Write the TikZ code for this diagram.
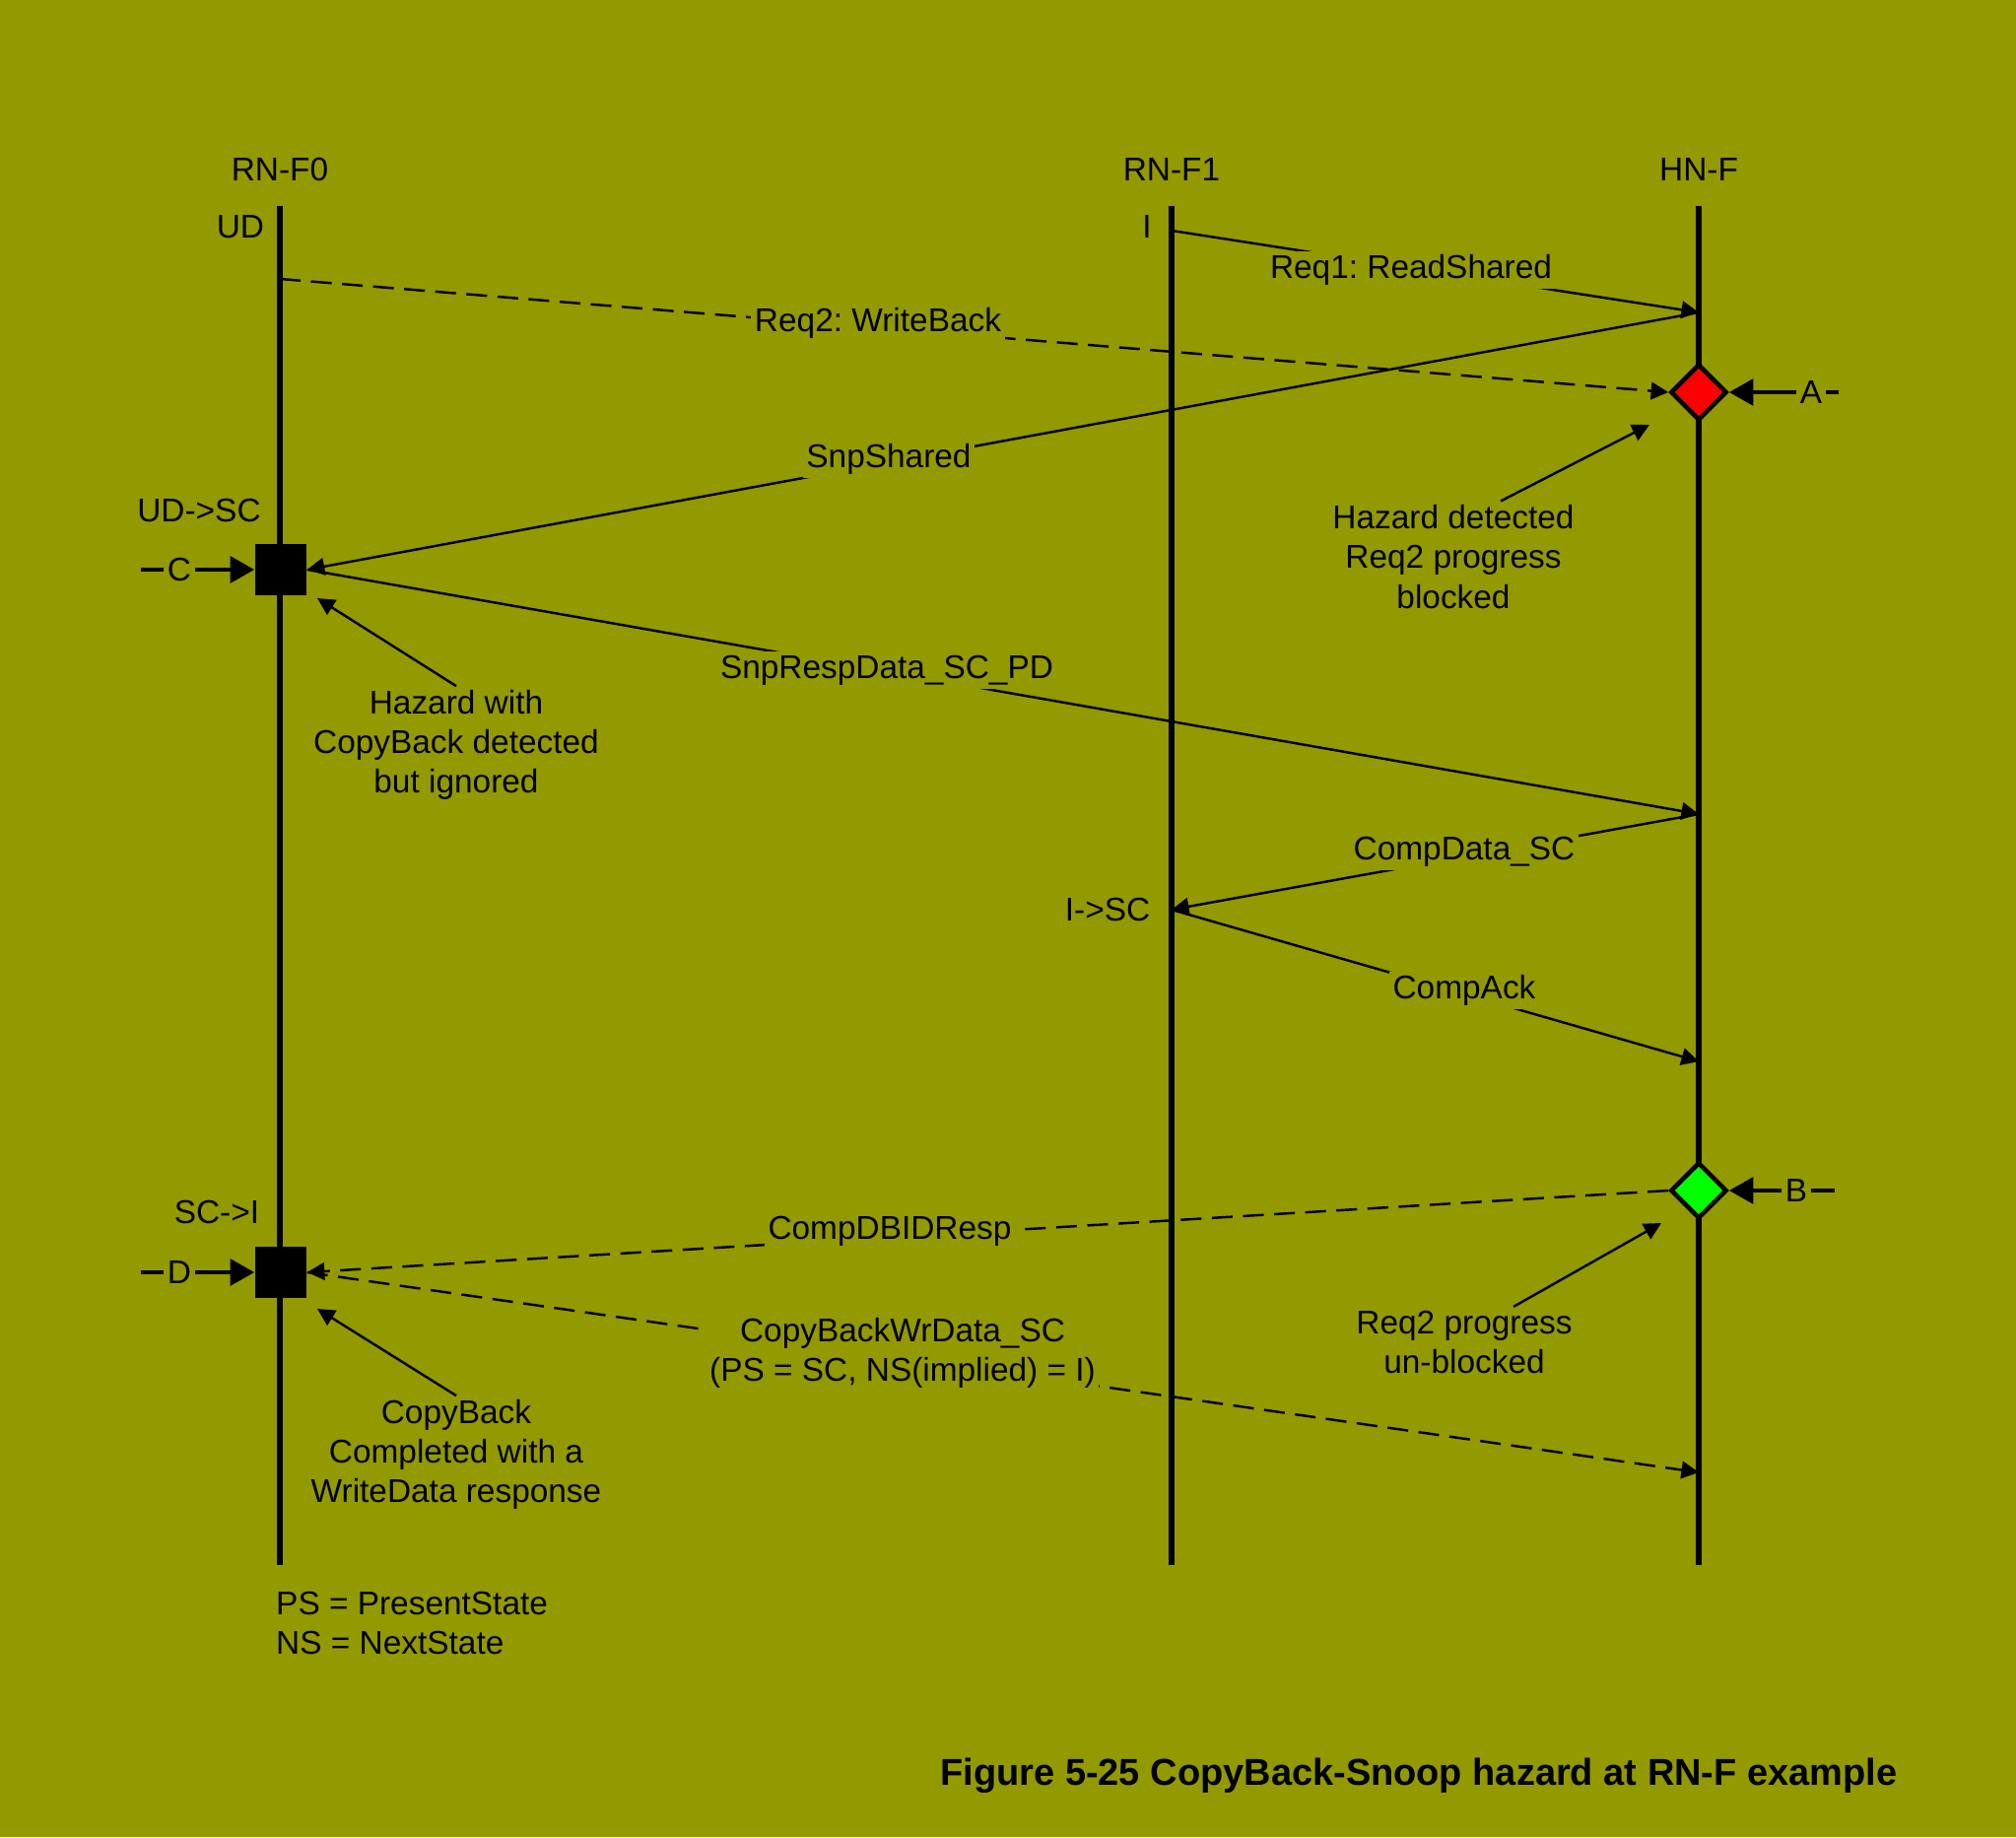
\documentclass[tikz,border=0pt]{standalone}
\usepackage{fontspec}
\setmainfont{Liberation Sans}
\usetikzlibrary{arrows.meta,positioning,shapes.geometric}
\definecolor{Olive}{HTML}{939900}
\definecolor{HazRed}{HTML}{FF0000}
\definecolor{HazGreen}{HTML}{00FF00}
\frenchspacing

\begin{document}
\begin{tikzpicture}[x=0.01cm,y=-0.01cm,
  txt/.style={font=\fontsize{9.5}{11.4}\selectfont,inner sep=1pt},
  lbl/.style={txt,fill=Olive},
  note/.style={txt,align=center},
  life/.style={line width=1.5pt},
  msg/.style={-{Triangle[length=5pt,width=5pt]},line width=0.7pt},
  dmsg/.style={msg,dash pattern=on 6pt off 3pt},
  ptr/.style={-{Triangle[length=5pt,width=5pt]},line width=0.7pt},
  bigarrow/.style={-{Triangle[length=7pt,width=7.5pt]},line width=1.4pt},
  dia/.style={diamond,draw,line width=1.3pt,minimum width=0.57cm,minimum height=0.57cm,inner sep=0pt},
  sq/.style={rectangle,fill=black,minimum size=0.52cm,inner sep=0pt}
]
\fill[Olive] (0,0) rectangle (2046,1864);
\useasboundingbox (0,0) rectangle (2046,1864);

% lifelines
\node[txt] (f0) at (284,172) {RN-F0};
\node[txt] (f1) at (1189,172) {RN-F1};
\node[txt] (hn) at (1724,172) {HN-F};
\coordinate (f0top) at (284,209);
\coordinate (f0bot) at (284,1588);
\coordinate (f1top) at (1189,209);
\coordinate (f1bot) at (1189,1588);
\coordinate (hntop) at (1724,209);
\coordinate (hnbot) at (1724,1588);
\draw[life] (f0top) -- (f0bot);
\draw[life] (f1top) -- (f1bot);
\draw[life] (hntop) -- (hnbot);

% hazard points
\node[dia,fill=HazRed] (dA) at (1724,398) {};
\node[dia,fill=HazGreen] (dB) at (1724,1208) {};
\node[sq] (sqC) at (285,578) {};
\node[sq] (sqD) at (285,1291) {};

% states
\node[txt] (sUD) at (244,230) {UD};
\node[txt] (sI) at (1164,230) {I};
\node[txt] (sUDSC) at (202,518) {UD->SC};
\node[txt] (sISC) at (1124,923) {I->SC};
\node[txt] (sSCI) at (220,1230) {SC->I};

% message points
\coordinate (f1a) at (1189,234);
\coordinate (hna) at (1724,317);
\coordinate (f0a) at (284,283);
\coordinate (hnb) at (1724,826);
\coordinate (f1b) at (1189,923);
\coordinate (hnc) at (1724,1077);
\coordinate (hnd) at (1724,1494);

\draw[msg] (f1a) -- (hna);
\draw[dmsg] (f0a) -- (dA.west);
\draw[msg] (hna) -- (sqC.east);
\draw[msg] (sqC.east) -- (hnb);
\draw[msg] (hnb) -- (f1b);
\draw[msg] (f1b) -- (hnc);
\draw[dmsg] (dB.west) -- (sqD.east);
\draw[dmsg] (sqD.east) -- (hnd);

\node[lbl] (lReq1) at (1432,274) {Req1: ReadShared};
\node[lbl] (lReq2) at (891,328) {Req2: WriteBack};
\node[lbl] (lSnp) at (902,466) {SnpShared};
\node[lbl] (lResp) at (900,680) {SnpRespData\_SC\_PD};
\node[lbl] (lComp) at (1486,864) {CompData\_SC};
\node[lbl] (lAck) at (1486,1005) {CompAck};
\node[lbl] (lDBID) at (903,1249) {CompDBIDResp};
\node[lbl,align=center] (lWr) at (916,1373) {CopyBackWrData\_SC\\(PS = SC, NS(implied) = I)};

% event markers
\coordinate (aEnd) at (1866,398);
\coordinate (bEnd) at (1862,1208);
\coordinate (cEnd) at (143,578);
\coordinate (dEnd) at (143,1291);
\draw[bigarrow] (aEnd) -- (dA.east);
\draw[bigarrow] (bEnd) -- (dB.east);
\draw[bigarrow] (cEnd) -- (sqC.west);
\draw[bigarrow] (dEnd) -- (sqD.west);
\node[lbl] (lA) at (1838,398) {A};
\node[lbl] (lB) at (1823,1208) {B};
\node[lbl] (lC) at (182,578) {C};
\node[lbl] (lD) at (182,1291) {D};

% notes
\node[note] (noteA) at (1475,565) {Hazard detected\\Req2 progress\\blocked};
\node[note] (noteC) at (463,756) {Hazard with\\CopyBack detected\\but ignored};
\node[note] (noteB) at (1486,1362) {Req2 progress\\un-blocked};
\node[note] (noteD) at (463,1476) {CopyBack\\Completed with a\\WriteData response};
\coordinate (pA) at (1674,431);
\coordinate (pC) at (322,607);
\coordinate (pB) at (1686,1241);
\coordinate (pD) at (322,1328);
\draw[ptr] ([xshift=0.48cm]noteA.north) -- (pA);
\draw[ptr] (noteC.north) -- (pC);
\draw[ptr] ([xshift=0.5cm]noteB.north) -- (pB);
\draw[ptr] (noteD.north) -- (pD);

\node[txt,align=left,anchor=west] (key) at (276,1647) {PS = PresentState\\NS = NextState};
\node[anchor=east,inner sep=0pt,font=\fontsize{10.8}{13}\selectfont\bfseries] (title) at (1926,1802) {Figure 5-25 CopyBack-Snoop hazard at RN-F example};
\end{tikzpicture}
\end{document}
